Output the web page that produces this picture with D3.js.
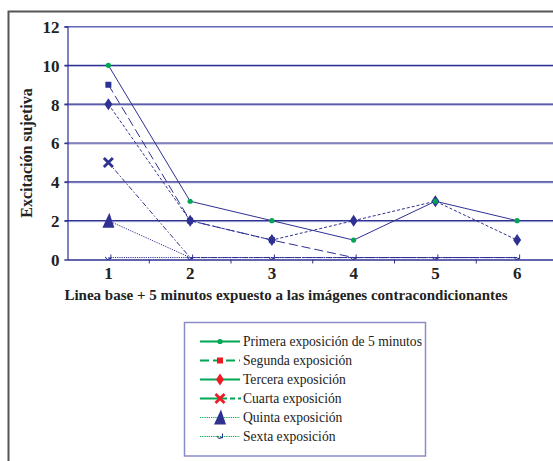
<!DOCTYPE html>
<html><head><meta charset="utf-8">
<script src="https://cdn.jsdelivr.net/npm/d3@7"></script>
<style>html,body{margin:0;padding:0;background:#fff;overflow:hidden}svg{display:block}</style>
</head><body>
<script>
const categories = [1, 2, 3, 4, 5, 6];
const yTicks = [0, 2, 4, 6, 8, 10, 12];
const primera = [10, 3, 2, 1, 3, 2];
const segunda = [9, 2, 1, 0.1, 0.1, 0.1];
const tercera = [8, 2, 1, 2, 3, 1];
const cuarta  = [5, 0.1, 0.1, 0.1, 0.1, 0.1];
const quinta  = [2, 0.1, 0.1, 0.1, 0.1, 0.1];
const sexta   = [0.1, 0.1, 0.1, 0.1, 0.1, 0.1];
const seriesNames = ["Primera exposición de 5 minutos","Segunda exposición","Tercera exposición","Cuarta exposición","Quinta exposición","Sexta exposición"];
const yTitle = "Excitación sujetiva";
const xTitle = "Linea base + 5 minutos expuesto a las imágenes contracondicionantes";

(function(){
const W = 553, H = 461;
const navy = "#2e3192", green = "#00a651", red = "#ed1c24";
const FF = '"Liberation Serif", "Times New Roman"';
const svg = d3.select("body").append("svg").attr("width", W).attr("height", H);

svg.append("path").attr("d", `M8.5,${H} L8.5,11.5 L${W},11.5`).attr("fill","none").attr("stroke","#555").attr("stroke-width",2);

const pLeft = 67.5, pRight = 558, pTop = 26.5, pBottom = 259.5;
const x = d3.scaleBand().domain(categories).range([pLeft, pRight]);
const y = d3.scaleLinear().domain([0, 12]).range([pBottom, pTop]);

const g = svg.append("g");
yTicks.filter(d => d > 0).forEach(t => {
  g.append("line").attr("x1", pLeft-3).attr("x2", W).attr("y1", y(t)+1).attr("y2", y(t)+1).attr("stroke","#a9abd6").attr("stroke-width",1);
  g.append("line").attr("x1", pLeft-3).attr("x2", W).attr("y1", y(t)).attr("y2", y(t)).attr("stroke", t===12 ? "#6a6cb8" : navy).attr("stroke-width",1.2);
});

const yAxis = d3.axisLeft(y).tickValues(yTicks).tickSize(3).tickPadding(5);
const ya = svg.append("g").attr("transform", `translate(${pLeft},0)`).call(yAxis);
ya.select(".domain").attr("stroke", navy).attr("stroke-width",1.2);
ya.selectAll(".tick line").attr("stroke", navy);
ya.selectAll("text").style("font-family", FF).attr("font-weight","bold").attr("font-size",17).attr("fill","#222").attr("dy","0.35em");

const xAxis = d3.axisBottom(x).tickSize(0).tickPadding(10);
const xa = svg.append("g").attr("transform", `translate(0,${pBottom})`).call(xAxis);
xa.select(".domain").attr("stroke", navy).attr("stroke-width",1.5);
xa.selectAll("text").style("font-family", FF).attr("font-weight","bold").attr("font-size",17).attr("fill","#222").attr("dy","0.55em");
categories.slice(1).forEach(c => {
  xa.append("line").attr("x1", x(c)).attr("x2", x(c)).attr("y1", 0).attr("y2", 4).attr("stroke", navy);
});

svg.append("text").attr("x", 286).attr("y", 300).attr("text-anchor","middle").style("font-family", FF)
  .attr("font-weight","bold").attr("font-size",15).attr("fill","#222").text(xTitle);
svg.append("text").attr("transform","translate(32,153) rotate(-90)").attr("text-anchor","middle").style("font-family", FF)
  .attr("font-weight","bold").attr("font-size",16).attr("fill","#222").text(yTitle);

const cx = c => x(c) + x.bandwidth()/2;
const line = d3.line().x((d,i) => cx(categories[i])).y(d => y(d));

const markers = {
  dot: (s, col) => s.append("circle").attr("r", 2.6).attr("fill", col),
  square: (s, col) => s.append("rect").attr("x",-3).attr("y",-3).attr("width",6).attr("height",6).attr("fill", col),
  diamond: (s, col) => s.append("path").attr("d","M0,-6 L4,0 L0,6 L-4,0Z").attr("fill", col),
  cross: (s, col) => s.append("path").attr("d","M-4.5,-4.5 L4.5,4.5 M4.5,-4.5 L-4.5,4.5").attr("stroke", col).attr("stroke-width",2.8).attr("fill","none"),
  triangle: (s, col) => s.append("path").attr("d","M1,-8 L6,7 L-6,7Z").attr("fill", col),
  check: (s, col) => s.append("path").attr("d","M-3,-1 L-1,1.5 L2,0 L2,-3 L3,-3 L3,1.5 L-1,2.5 L-3.5,0Z").attr("fill", col)
};

const series = [
  {vals: primera, dash: null, marker: "dot", mcol: green, legDash: null, legMarkCol: green},
  {vals: segunda, dash: "9,4", marker: "square", mcol: navy, legDash: "9,4", legMarkCol: red},
  {vals: tercera, dash: "3,2", marker: "diamond", mcol: navy, legDash: null, legMarkCol: red},
  {vals: cuarta, dash: "5,2,1.5,2", marker: "cross", mcol: navy, legDash: "5,3", legMarkCol: red},
  {vals: quinta, dash: "1.2,1.2", marker: "triangle", mcol: navy, legDash: "1.2,1", legMarkCol: navy},
  {vals: sexta, dash: "1.2,1", marker: "check", mcol: navy, legDash: "1.2,1", legMarkCol: navy}
];

series.slice().reverse().forEach(s => {
  svg.append("path").datum(s.vals).attr("d", line).attr("fill","none").attr("stroke", navy).attr("stroke-width",1)
    .attr("stroke-dasharray", s.dash);
});
series.slice().reverse().forEach(s => {
  s.vals.forEach((v,i) => {
    if (s.marker !== "dot" && s.marker !== "check" && v < 0.5) return;
    const m = svg.append("g").attr("transform", `translate(${cx(categories[i])},${y(v)})`);
    markers[s.marker](m, s.mcol);
  });
});

svg.append("rect").attr("x",184.5).attr("y",322.5).attr("width",241).attr("height",133.5)
  .attr("fill","none").attr("stroke","#8a8cc8").attr("stroke-width",1.5);
seriesNames.forEach((name,i) => {
  const ly = 341.5 + i*19;
  const s = series[i];
  const lg = svg.append("g").attr("transform", `translate(0,${ly})`);
  if (i === 3) {
    lg.append("line").attr("x1",200).attr("x2",220).attr("stroke",green).attr("stroke-width",2);
    lg.append("line").attr("x1",222).attr("x2",241).attr("stroke",green).attr("stroke-width",2).attr("stroke-dasharray","5,3");
  } else {
    lg.append("line").attr("x1",200).attr("x2",240).attr("stroke",green).attr("stroke-width", s.legDash && s.legDash.startsWith("1.2") ? 1.2 : 2)
      .attr("stroke-dasharray", s.legDash);
  }
  const m = lg.append("g").attr("transform","translate(220,0)");
  markers[s.marker](m, s.legMarkCol);
  lg.append("text").attr("x",243).attr("y",0).attr("dy","0.35em").style("font-family", FF).attr("font-size",13.6).attr("fill","#222").text(name);
});
})();
</script>
</body></html>
